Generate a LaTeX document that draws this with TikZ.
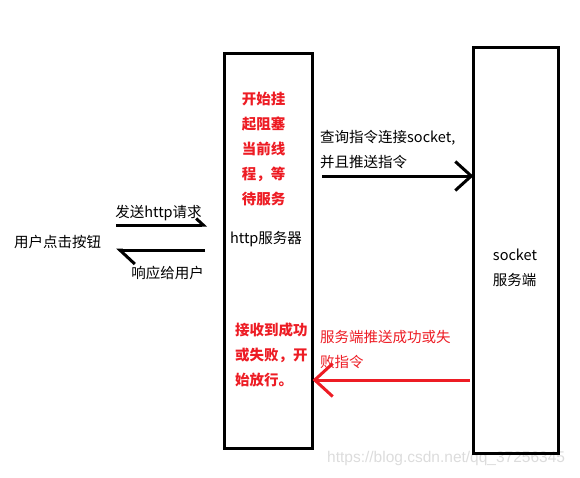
\documentclass[tikz,border=0pt]{standalone}
\usepackage{fontspec}
\setmainfont{Noto Sans CJK SC}
\newfontfamily\wmfont{Liberation Sans}
\usetikzlibrary{positioning, arrows.meta}
\definecolor{pRed}{HTML}{ED1C24}
\definecolor{wmGray}{HTML}{DCDCDC}

\begin{document}
\begin{tikzpicture}[x=1pt, y=-1pt,
  server/.style={draw, line width=3pt, inner sep=0pt, outer sep=0pt},
  txt/.style={inner sep=0pt, align=left, font=\fontsize{14.5}{25}\selectfont},
  redtxt/.style={txt, text=pRed},
  bold/.style={font=\fontsize{14.5}{25}\selectfont\bfseries},
  flow/.style={line width=3pt},
]
  \useasboundingbox (0,0) rectangle (580,477);

  % watermark
  \node[anchor=west, inner sep=0pt, text=wmGray, font=\wmfont\fontsize{15.5}{18}\selectfont]
    (wm) at (327,458) {https://blog.csdn.net/qq\_37256345};

  % the two servers
  \node[server, minimum width=88pt, minimum height=395pt] (http) at (268.5,251) {};
  \node[server, minimum width=85pt, minimum height=406pt] (sock) at (516,250.5) {};

  \node[txt] (httpname) at (266,239) {http服务器};
  \node[txt] (sockname) at (515,267.5) {socket\\服务端};

  \node[redtxt, bold, align=center] (wait) at (263.5,149)
    {开始挂\\起阻塞\\当前线\\程，等\\待服务};
  \node[redtxt, bold, anchor=west] (go) at (235,355)
    {接收到成功\\或失败，开\\始放行。};

  % user side
  \node[txt] (click) at (57.5,242) {用户点击按钮};
  \node[txt] (send) at (158.5,213) {发送http请求};
  \node[txt] (reply) at (167.5,273) {响应给用户};

  \coordinate (reqA) at (116,225);
  \coordinate (reqB) at (207,225);
  \coordinate (resA) at (205,250);
  \coordinate (resB) at (116,250);
  \draw[flow, -{Straight Barb[left, length=7pt, width=13pt]}] (reqA) -- (reqB);
  \draw[flow, -{Straight Barb[left, length=15pt, width=28pt]}] (resA) -- (resB);

  % http server <-> socket server
  \node[txt, anchor=west] (query) at (320,150)
    {查询指令连接socket,\\并且推送指令};
  \node[redtxt, anchor=west] (push) at (320,349.5)
    {服务端推送成功或失\\败指令};

  \coordinate (qA) at (322,176);
  \coordinate (pA) at (470,380);
  \draw[flow, -{Straight Barb[length=16pt, width=29pt]}] (qA) -- (sock.west |- qA);
  \draw[flow, pRed, -{Straight Barb[length=18pt, width=33pt]}] (pA) -- (http.east |- pA);
\end{tikzpicture}
\end{document}
